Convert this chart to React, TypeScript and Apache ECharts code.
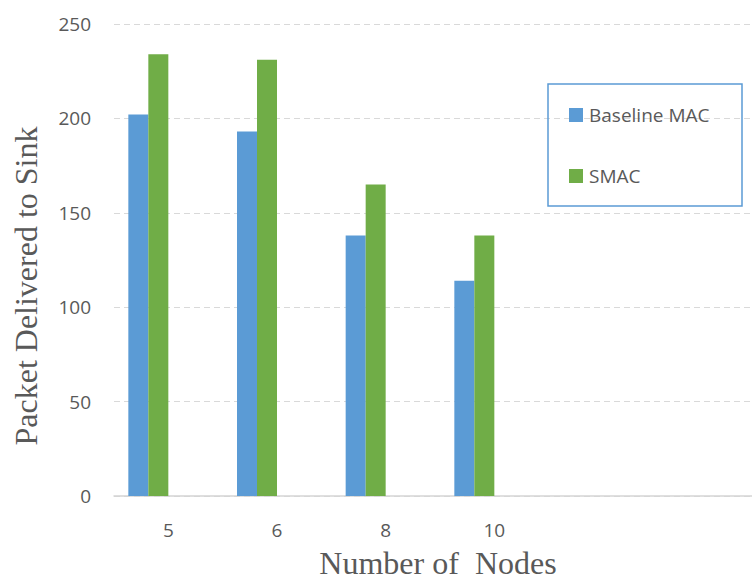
import React, { useEffect, useRef } from "react";
import * as echarts from "echarts";

// Number of nodes on the x axis, plus two empty slots that keep the spacing
const nodeCounts = ["5", "6", "8", "10"];
const emptySlots = ["", ""];

// Packets delivered to the sink
const baselineMac = [202, 193, 138, 114];
const smac = [234, 231, 165, 138];

const yTicks = { min: 0, max: 250, interval: 50 };

const TEXT = "#595959";
const SANS = "'Open Sans', 'Noto Sans', sans-serif";
const SERIF = "'Liberation Serif', 'DejaVu Serif', serif";

// The plot runs a little past the visible right edge, so the chart canvas is
// wider than the frame that clips it.
const FRAME_W = 752;
const FRAME_H = 580;
const CANVAS_W = 766;

export default function App() {
  const ref = useRef<HTMLDivElement>(null);

  useEffect(() => {
    if (!ref.current) return;
    const chart = echarts.init(ref.current, undefined, { renderer: "svg" });
    chart.setOption({
      animation: false,
      backgroundColor: "#ffffff",
      grid: { left: 114, right: 0, top: 24, bottom: 84, containLabel: false },
      xAxis: {
        type: "category",
        data: [...nodeCounts, ...emptySlots],
        axisLine: { show: true, lineStyle: { color: "#D4D4D4", width: 1.5 } },
        axisTick: { show: false },
        axisLabel: { color: TEXT, fontFamily: SANS, fontSize: 19, margin: 24, interval: 0 },
        splitLine: { show: false },
      },
      yAxis: {
        type: "value",
        min: yTicks.min,
        max: yTicks.max,
        interval: yTicks.interval,
        axisLine: { show: false },
        axisTick: { show: false },
        axisLabel: { color: TEXT, fontFamily: SANS, fontSize: 19, margin: 23 },
        splitLine: { lineStyle: { color: "#D9D9D9", type: [6, 4], width: 1 } },
      },
      legend: {
        data: ["Baseline MAC", "SMAC"],
        orient: "vertical",
        left: 569,
        top: 105.5,
        itemWidth: 14,
        itemHeight: 14,
        itemGap: 42,
        icon: "rect",
        textStyle: { color: TEXT, fontFamily: SANS, fontSize: 19, padding: [0, 0, 0, 1] },
        padding: 0,
      },
      graphic: [
        {
          type: "rect",
          shape: { x: 548, y: 84, width: 194, height: 122 },
          style: { fill: "none", stroke: "#5B9BD5", lineWidth: 1.5 },
          z: 100,
        },
        {
          type: "text",
          x: 26,
          y: 286,
          rotation: Math.PI / 2,
          style: {
            text: "Packet Delivered to Sink",
            fill: TEXT,
            font: `32px ${SERIF}`,
            align: "center",
            verticalAlign: "middle",
          },
        },
        {
          type: "text",
          x: 438,
          y: 563,
          style: {
            text: "Number of  Nodes",
            fill: TEXT,
            font: `32px ${SERIF}`,
            align: "center",
            verticalAlign: "middle",
          },
        },
      ],
      series: [
        {
          name: "Baseline MAC",
          type: "bar",
          data: baselineMac,
          barWidth: 20,
          barGap: "0%",
          itemStyle: { color: "#5B9BD5" },
        },
        {
          name: "SMAC",
          type: "bar",
          data: smac,
          barWidth: 20,
          barGap: "0%",
          itemStyle: { color: "#70AD47" },
        },
        // two unused slots in each group, as in the original series layout
        { name: "slot3", type: "bar", data: [], barWidth: 20, barGap: "0%" },
        { name: "slot4", type: "bar", data: [], barWidth: 20, barGap: "0%" },
      ],
    });
    return () => chart.dispose();
  }, []);

  return (
    <div
      style={{
        position: "fixed",
        left: 0,
        top: 0,
        width: FRAME_W,
        height: FRAME_H,
        overflow: "hidden",
      }}
    >
      <div ref={ref} style={{ width: CANVAS_W, height: FRAME_H }} />
    </div>
  );
}
